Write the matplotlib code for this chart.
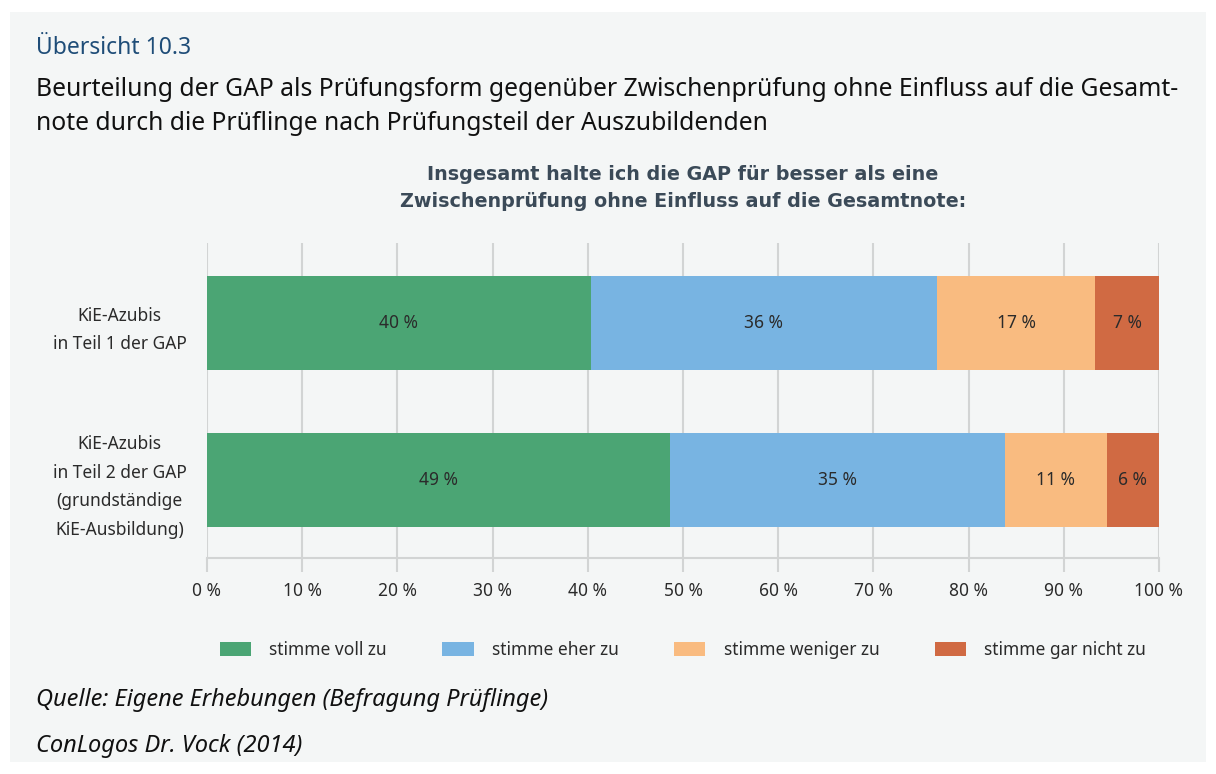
import matplotlib.pyplot as plt
from matplotlib.patches import Rectangle
import numpy as np

# data (segment widths in percent)
rows = ['KiE-Azubis\nin Teil 1 der GAP',
        'KiE-Azubis\nin Teil 2 der GAP\n(grundständige\nKiE-Ausbildung)']
categories = ['stimme voll zu', 'stimme eher zu', 'stimme weniger zu', 'stimme gar nicht zu']
voll = [40.3, 48.6]
eher = [36.4, 35.2]
weniger = [16.6, 10.7]
gar_nicht = [6.7, 5.5]
labels_voll = ['40 %', '49 %']
labels_eher = ['36 %', '35 %']
labels_weniger = ['17 %', '11 %']
labels_gar_nicht = ['7 %', '6 %']
ticks = [0, 10, 20, 30, 40, 50, 60, 70, 80, 90, 100]

colors = ['#4ba574', '#78b4e2', '#f9bb80', '#d06a43']
panel = '#f4f6f6'
text_col = '#2b2b2b'
grid_col = '#d2d4d4'

plt.rcParams['font.family'] = ['Noto Sans', 'DejaVu Sans']

fig = plt.figure(figsize=(12.16, 7.74), dpi=100)
fig.patches.append(Rectangle((10 / 1216, 12 / 774), 1196 / 1216, 750 / 774,
                             transform=fig.transFigure, facecolor=panel,
                             edgecolor='none', zorder=-10))

fig.text(36 / 1216, 1 - 48 / 774, 'Übersicht 10.3', color='#1f4d78',
         fontsize=16.5, va='center', ha='left')
fig.text(36 / 1216, 1 - 90 / 774,
         'Beurteilung der GAP als Prüfungsform gegenüber Zwischenprüfung ohne Einfluss auf die Gesamt-',
         color='#111111', fontsize=17.8, va='center', ha='left')
fig.text(36 / 1216, 1 - 124 / 774,
         'note durch die Prüflinge nach Prüfungsteil der Auszubildenden',
         color='#111111', fontsize=17.8, va='center', ha='left')

ax = fig.add_axes([207 / 1216, 1 - 558 / 774, 952 / 1216, 315 / 774])
ax.set_facecolor('none')

y = np.arange(len(rows))
series = [voll, eher, weniger, gar_nicht]
series_labels = [labels_voll, labels_eher, labels_weniger, labels_gar_nicht]
left = np.zeros(len(rows))
for vals, labs, col, cat in zip(series, series_labels, colors, categories):
    vals = np.array(vals)
    bars = ax.barh(y, vals, left=left, height=0.6, color=col, label=cat, zorder=3)
    ax.bar_label(bars, labels=labs, label_type='center', color=text_col, fontsize=12.5)
    left += vals

ax.set_xlim(0, 100)
ax.set_ylim(1.5, -0.51)
ax.set_xticks(ticks)
ax.set_xticklabels([f'{t} %' for t in ticks], fontsize=12.5, color=text_col)
ax.set_yticks(y)
ax.set_yticklabels(rows, fontsize=12.5, color=text_col, ha='center', linespacing=1.75)
ax.tick_params(axis='y', length=0, pad=63)
ax.tick_params(axis='x', length=10, color=grid_col, width=1.5, pad=7)
ax.xaxis.grid(True, color=grid_col, linewidth=1.5, zorder=0)
for s in ['top', 'left', 'right']:
    ax.spines[s].set_visible(False)
ax.spines['bottom'].set_color(grid_col)
ax.spines['bottom'].set_linewidth(1.5)

ax.set_title('Insgesamt halte ich die GAP für besser als eine\nZwischenprüfung ohne Einfluss auf die Gesamtnote:',
             fontsize=13.8, fontweight='bold', family='DejaVu Sans', color='#3b4a58',
             pad=26, linespacing=1.5)

fig.legend(loc='center', bbox_to_anchor=(683 / 1216, 1 - 650 / 774), ncol=4,
           frameon=False, fontsize=12.5, handlelength=1.8, handleheight=0.92,
           handletextpad=1.05, columnspacing=3.2, labelcolor=text_col)

fig.text(36 / 1216, 1 - 700 / 774, 'Quelle: Eigene Erhebungen (Befragung Prüflinge)',
         fontsize=17, style='italic', color='#111111', va='center')
fig.text(36 / 1216, 1 - 746 / 774, 'ConLogos Dr. Vock (2014)',
         fontsize=17, style='italic', color='#111111', va='center')

fig.savefig('out.png', dpi=100, facecolor='white')
